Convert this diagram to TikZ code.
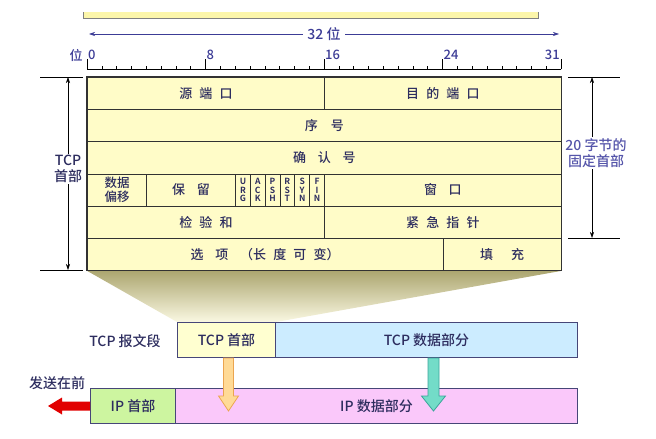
\documentclass[tikz,border=0pt]{standalone}
\usepackage{fontspec}
\setmainfont{Noto Sans CJK SC}[BoldFont={Noto Sans CJK SC Bold}]
\newfontfamily\medfont{Noto Sans CJK SC Medium}
\usetikzlibrary{calc}
\usetikzlibrary{backgrounds}
\usetikzlibrary{arrows.meta}
\definecolor{tabfill}{RGB}{255,252,200}
\definecolor{tline}{RGB}{50,50,50}
\definecolor{txt}{RGB}{45,45,95}
\definecolor{bluetxt}{RGB}{60,60,150}
\definecolor{purtxt}{RGB}{85,85,170}
\definecolor{boxline}{RGB}{70,70,120}
\definecolor{hdrfill}{RGB}{255,255,208}
\definecolor{datfill}{RGB}{204,236,255}
\definecolor{iphfill}{RGB}{205,245,160}
\definecolor{ipdfill}{RGB}{250,200,250}
\definecolor{funtop}{RGB}{172,166,112}
\definecolor{funbot}{RGB}{250,248,226}
\definecolor{yfill}{RGB}{255,218,150}
\definecolor{yline}{RGB}{235,165,80}
\definecolor{tfill}{RGB}{115,220,200}
\definecolor{tlinec}{RGB}{60,165,155}
\definecolor{redarr}{RGB}{225,0,0}
\definecolor{stripfill}{RGB}{252,246,170}
\newcommand{\cgap}{\hspace{0.55em}}

\begin{document}
\begin{tikzpicture}[x=1pt,y=-1pt]
\tikzstyle{cell}=[draw=tline, fill=tabfill, line width=0.8pt, anchor=north west, inner sep=0pt, minimum height=32.17pt, text=txt, font=\medfont\fontsize{13}{15}\selectfont]
\tikzstyle{flag}=[cell, minimum width=14.81pt, align=center, font=\bfseries\fontsize{8.5}{8.3}\selectfont]
\tikzstyle{seg}=[draw=boxline, line width=1pt, anchor=north west, inner sep=0pt, minimum height=35pt, text=txt, font=\medfont\fontsize{14}{16}\selectfont]
\tikzstyle{lbl}=[text=txt, inner sep=1pt, font=\medfont\fontsize{14}{16}\selectfont]
\tikzstyle{num}=[text=bluetxt, inner sep=0pt, font=\medfont\fontsize{13}{15}\selectfont]
\tikzstyle{dim}=[{Stealth[length=6pt,width=4pt]}-{Stealth[length=6pt,width=4pt]}, line width=0.6pt]

\useasboundingbox (0,0) rectangle (656,439);

	%strip at top
	\fill[stripfill] (83,12) rectangle (538,18);
	\draw[gray, line width=0.8pt] (83,12) -- (83,18) -- (538,18) -- (538,12);

	%32 bit arrow and ruler
	\coordinate (bl) at (89,34);
	\coordinate (br) at (559,34);
	\draw[dim, bluetxt] (bl) -- node[num, fill=white, inner sep=4pt, font=\medfont\fontsize{14}{16}\selectfont] (width) {32 位} (br);
	\draw[line width=0.7pt] (87,69) -- (561,69);
	\foreach \b in {0,...,32}
		\draw[line width=0.5pt] (87+\b*14.8125,69) -- ++(0,-3);
	\foreach \b in {0,8,16,24,32}
		\draw[line width=0.7pt] (87+\b*14.8125,69) -- ++(0,-10);
	\foreach \b in {0,8,16,24}
		\node[num, anchor=west] (bit\b) at (88+\b*14.8125,55) {\b};
	\node[num, anchor=east] (bit31) at (560,55) {31};
	\node[num] (wei) at (76,55) {位};

	%header fields
	\node[cell, minimum width=237pt] (src) at (87,77) {源\cgap 端\cgap 口};
	\node[cell, minimum width=237pt] (dst) at (324,77) {目\cgap 的\cgap 端\cgap 口};
	\node[cell, minimum width=474pt] (seq) at (87,109.17) {序\hspace{1em}号};
	\node[cell, minimum width=474pt] (ack) at (87,141.33) {确\hspace{0.9em}认\hspace{0.9em}号};
	\node[cell, minimum width=59.25pt, align=center, font=\medfont\fontsize{12.5}{13.5}\selectfont] (off) at (87,173.5) {数据\\偏移};
	\node[cell, minimum width=88.875pt] (res) at (146.25,173.5) {保\hspace{0.9em}留};
	\foreach \f [count=\i from 0] in {{U\\R\\G},{A\\C\\K},{P\\S\\H},{R\\S\\T},{S\\Y\\N},{F\\I\\N}}
		\node[flag] (flag\i) at (235.125+\i*14.8125,173.5) {\f};
	\node[cell, minimum width=237pt] (win) at (324,173.5) {窗\hspace{0.9em}口};
	\node[cell, minimum width=237pt] (chk) at (87,205.67) {检\cgap 验\cgap 和};
	\node[cell, minimum width=237pt] (urg) at (324,205.67) {紧\cgap 急\cgap 指\cgap 针};
	\node[cell, minimum width=355.5pt] (opt) at (87,237.83) {选\hspace{0.9em}项\hspace{0.9em}（长\cgap 度\cgap 可\cgap 变）};
	\node[cell, minimum width=118.5pt] (pad) at (442.5,237.83) {填\hspace{1.4em}充};
	\draw[tline, line width=1.3pt] (src.north west) rectangle (pad.south east);

	%brackets
	\coordinate (ltop) at (68,77);
	\coordinate (lbot) at (68,270);
	\draw[line width=0.6pt] (40,77) -- (83,77);
	\draw[line width=0.6pt] (40,270) -- (83,270);
	\draw[dim] (ltop) -- (lbot);
	\node[lbl, fill=white, align=center, font=\medfont\fontsize{14}{16.5}\selectfont] (hdrlbl) at (68,169) {TCP\\首部};
	\coordinate (rtop) at (592,77);
	\coordinate (rbot) at (592,238);
	\draw[line width=0.6pt] (568,77) -- (620,77);
	\draw[line width=0.6pt] (568,238) -- (620,238);
	\draw[dim] (rtop) -- (rbot);
	\node[lbl, text=purtxt, fill=white, align=center, font=\medfont\fontsize{14}{16.5}\selectfont] (fixlbl) at (596,153) {20 字节的\\固定首部};

	%segments
	\node[seg, fill=hdrfill, minimum width=98pt] (tcphdr) at (177,322) {TCP 首部};
	\node[seg, fill=datfill, minimum width=302pt] (tcpdata) at (275,322) {TCP 数据部分};
	\node[lbl] (seglbl) at (125,341) {TCP 报文段};
	\node[seg, fill=iphfill, minimum width=85pt] (iphdr) at (90,388) {IP 首部};
	\node[seg, fill=ipdfill, minimum width=402pt] (ipdata) at (175,388) {IP 数据部分};
	\node[lbl] (sendlbl) at (57,383) {发送在前};

	%funnel
	\begin{scope}[on background layer]
	\shade[top color=funtop, bottom color=funbot] (opt.south west) -- (pad.south east) -- (tcphdr.north east) -- (tcphdr.north west) -- cycle;
	\end{scope}

	%block arrows
	\coordinate (ya) at ($(tcphdr.south)+(2,0)$);
	\filldraw[fill=yfill, draw=yline, line width=0.8pt] ($(ya)+(-5,0)$) -- ($(ya)+(-5,38)$) -- ($(ya)+(-10,38)$) -- ($(ya)+(0,53)$) -- ($(ya)+(10,38)$) -- ($(ya)+(5,38)$) -- ($(ya)+(5,0)$) -- cycle;
	\coordinate (ta) at ($(tcpdata.south)+(7,0)$);
	\filldraw[fill=tfill, draw=tlinec, line width=0.8pt] ($(ta)+(-5.5,0)$) -- ($(ta)+(-5.5,38)$) -- ($(ta)+(-12,38)$) -- ($(ta)+(0,53)$) -- ($(ta)+(12,38)$) -- ($(ta)+(5.5,38)$) -- ($(ta)+(5.5,0)$) -- cycle;
	\coordinate (ra) at (iphdr.west);
	\fill[redarr] ($(ra)+(0,-4.5)$) -- ($(ra)+(-28,-4.5)$) -- ($(ra)+(-28,-8.5)$) -- ($(ra)+(-42,0)$) -- ($(ra)+(-28,8.5)$) -- ($(ra)+(-28,4.5)$) -- ($(ra)+(0,4.5)$) -- cycle;

\end{tikzpicture}
\end{document}
